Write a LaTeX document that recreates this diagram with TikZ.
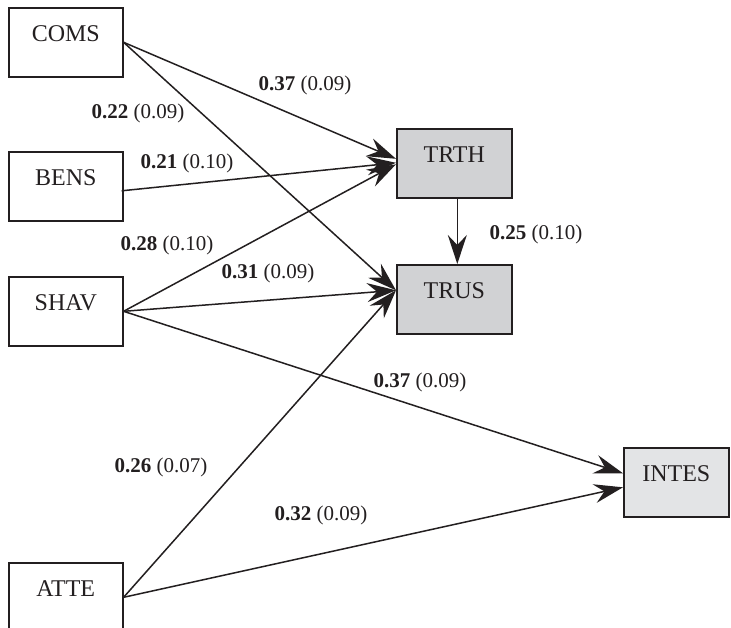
\documentclass[tikz,border=0pt]{standalone}
\usepackage{fontspec}
\setmainfont{Liberation Serif}
\usetikzlibrary{arrows.meta,calc}
\definecolor{ink}{HTML}{231F20}
\definecolor{boxgray}{HTML}{D1D2D4}
\definecolor{boxlight}{HTML}{E3E4E6}
\tikzset{
  varbox/.style={draw=ink, line width=1.6pt, inner sep=0pt, minimum height=69pt,
    text height=34pt, text depth=35pt, anchor=north west, text=ink,
    font=\fontsize{24}{27}\selectfont},
  path/.style={draw=ink, line width=1.5pt,
    -{Stealth[length=29pt, width=19pt, inset=10pt]}},
  coef/.style={anchor=base, text=ink, inner sep=0pt, font=\fontsize{21}{24}\selectfont}
}
\begin{document}
\begin{tikzpicture}[x=1pt,y=-1pt]
\clip (0,0) rectangle (731,627);
\fill[white] (0,0) rectangle (731,627);

\node[varbox, minimum width=114pt] (coms) at (8,7) {COMS};
\node[varbox, minimum width=114pt] (bens) at (8,151) {BENS};
\node[varbox, minimum width=114pt] (shav) at (8,276) {SHAV};
\node[varbox, minimum width=114pt] (atte) at (8,562) {ATTE};
\node[varbox, minimum width=115pt, fill=boxgray] (trth) at (396,128) {TRTH};
\node[varbox, minimum width=115pt, fill=boxgray] (trus) at (396,264) {TRUS};
\node[varbox, minimum width=105pt, fill=boxlight] (intes) at (623,447) {INTES};

\draw[path] (coms.east) -- ($(trth.west)+(0,-4.5)$);
\draw[path] (coms.east) -- ($(trus.west)+(0,-9)$);
\draw[path] ($(bens.east)+(-2,4.5)$) -- ($(trth.west)+(0,-0.5)$);
\draw[path] (shav.east) -- ($(trth.west)+(0,1)$);
\draw[path] (shav.east) -- ($(trus.west)+(0,-9)$);
\draw[path] (shav.east) -- ($(intes.west)+(0,-9)$);
\draw[path] (atte.east) -- ($(trus.west)+(0,-9)$);
\draw[path] (atte.east) -- ($(intes.west)+(0,5)$);
\draw[path] ($(trth.south)+(3,0)$) -- ($(trus.north)+(3,0)$);

\node[coef] (l1) at (305,90) {\textbf{0.37} (0.09)};
\node[coef] (l2) at (138,118) {\textbf{0.22} (0.09)};
\node[coef] (l3) at (187,168) {\textbf{0.21} (0.10)};
\node[coef] (l4) at (167,250) {\textbf{0.28} (0.10)};
\node[coef] (l5) at (268,278) {\textbf{0.31} (0.09)};
\node[coef] (l6) at (536,239) {\textbf{0.25} (0.10)};
\node[coef] (l7) at (420,387) {\textbf{0.37} (0.09)};
\node[coef] (l8) at (161,472) {\textbf{0.26} (0.07)};
\node[coef] (l9) at (321,520) {\textbf{0.32} (0.09)};
\end{tikzpicture}
\end{document}
